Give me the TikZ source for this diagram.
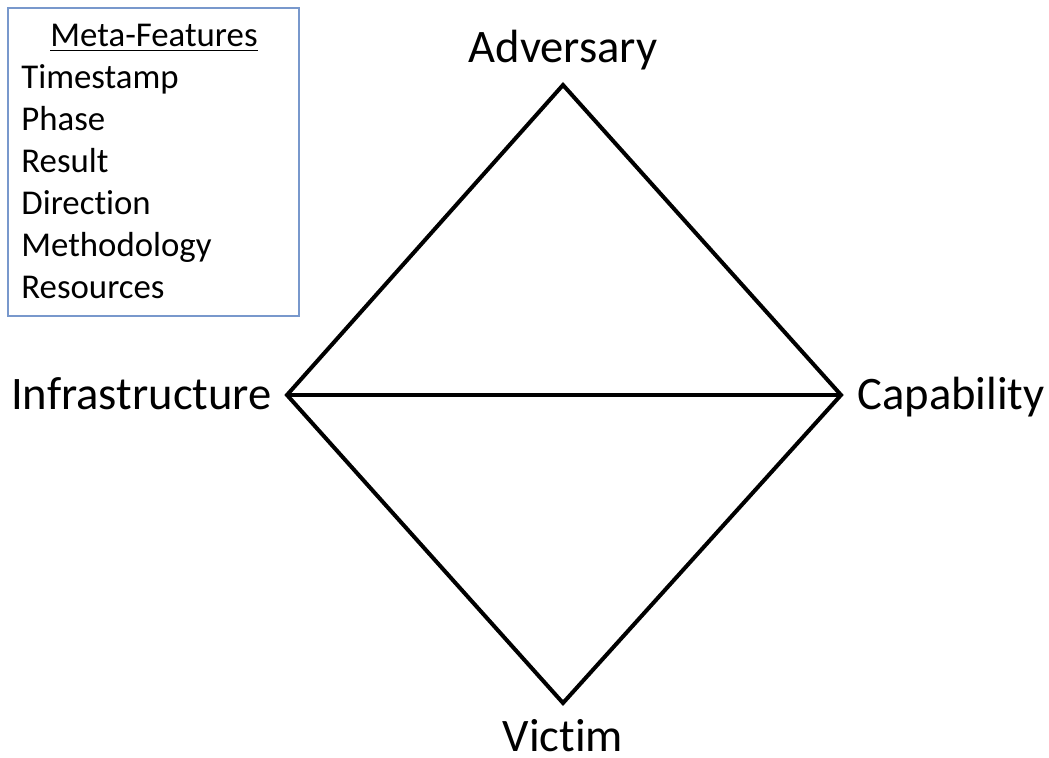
\documentclass[tikz,border=0pt]{standalone}
\usepackage{fontspec}
\setmainfont{Carlito}[Ligatures=NoCommon]
\usepackage{tikz}
\usetikzlibrary{positioning}
\definecolor{boxblue}{RGB}{120,152,204}

\begin{document}
\begin{tikzpicture}[x=0.5pt,y=-0.5pt,
  edge/.style={line width=2pt,line join=miter},
  vertexlabel/.style={inner sep=0pt,font=\fontsize{23.3}{28}\selectfont},
  metaitem/.style={inner sep=0pt,anchor=base west,font=\fontsize{17.4}{21}\selectfont}]
%%Location
\useasboundingbox (0,0) rectangle (1049,758);
%%Meta-Features box
\draw[boxblue,line width=0.6pt] (8,8) rectangle (299,316);
\node[metaitem,anchor=base] (metahead) at (154,47) {\underline{Meta-Features}};
\foreach \feat [count=\i] in {Timestamp,Phase,Result,Direction,Methodology,Resources}
  \node[metaitem] (meta\i) at (21,47+42*\i) {\feat};
%%Diamond
\coordinate (adv) at (563,85);
\coordinate (cap) at (841,395);
\coordinate (vic) at (563,703);
\coordinate (inf) at (287,395);
\draw[edge] (adv) -- (cap) -- (vic) -- (inf) -- cycle;
\draw[edge] (inf) -- (cap);
%%Label
\node[vertexlabel,anchor=base] (advlabel) at (563,63) {Adversary};
\node[vertexlabel,anchor=base east] (inflabel) at (272,410) {Infrastructure};
\node[vertexlabel,anchor=base west] (caplabel) at (857,410) {Capability};
\node[vertexlabel,anchor=base] (viclabel) at (563,751) {Victim};
\end{tikzpicture}
\end{document}
